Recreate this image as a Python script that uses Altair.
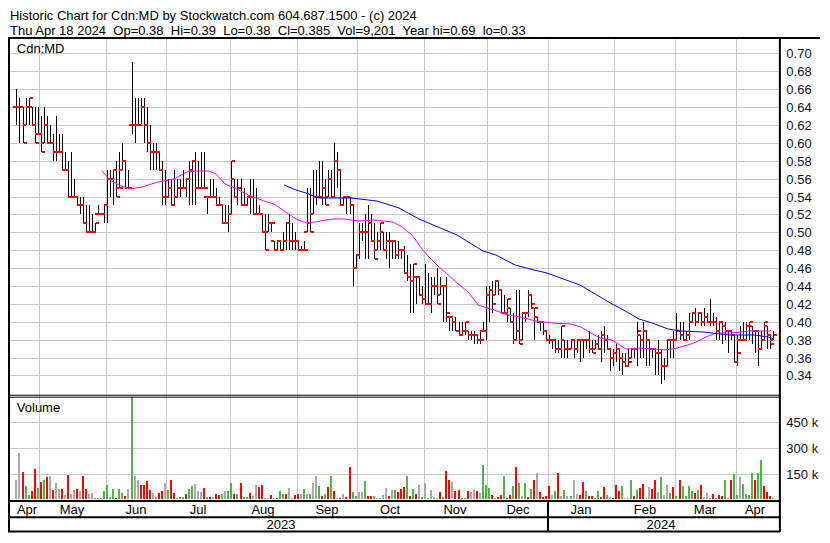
import altair as alt
import pandas as pd

# ---------------- data ----------------
N_BARS = 251
MONTHS = ["Apr", "May", "Jun", "Jul", "Aug", "Sep", "Oct", "Nov", "Dec", "Jan", "Feb", "Mar", "Apr"]
MONTH_START = [0, 8, 30, 50, 71, 93, 113, 135, 156, 176, 198, 218, 238]
YEARS = ["2023", "2024"]
YEAR_START = [0, 176]

HIGH = [
    .66, .65, .64, .65, .65, .64, .64, .64, .63, .64,
    .63, .62, .61, .63, .61, .61, .59, .58, .59, .56,
    .54, .54, .54, .53, .53, .52, .51, .53, .52, .53,
    .57, .57, .57, .58, .59, .60, .58, .57, .69, .65,
    .65, .65, .65, .64, .62, .60, .60, .59, .58, .57,
    .56, .56, .57, .56, .56, .57, .56, .58, .58, .59,
    .58, .59, .59, .54, .56, .56, .55, .54, .53, .53,
    .53, .58, .56, .56, .56, .55, .54, .56, .56, .55,
    .53, .52, .52, .52, .51, .49, .49, .49, .50, .51,
    .52, .51, .50, .49, .485, .49, .55, .55, .57, .57,
    .58, .58, .56, .57, .57, .60, .59, .57, .54, .54,
    .54, .53, .475, .51, .51, .52, .53, .52, .51, .50,
    .51, .50, .50, .50, .49, .49, .49, .48, .485, .475,
    .465, .465, .45, .45, .44, .465, .455, .45, .45, .46,
    .45, .44, .45, .405, .405, .405, .40, .40, .40, .39,
    .39, .39, .385, .39, .40, .44, .44, .445, .445, .445,
    .435, .43, .425, .415, .41, .435, .435, .41, .41, .435,
    .43, .415, .405, .40, .40, .39, .385, .38, .38, .38,
    .395, .38, .38, .38, .38, .38, .38, .38, .38, .39,
    .38, .38, .385, .39, .395, .385, .37, .37, .375, .37,
    .365, .365, .37, .37, .37, .40, .385, .40, .39, .38,
    .37, .37, .38, .37, .36, .38, .38, .39, .41, .40,
    .40, .39, .41, .41, .415, .41, .41, .415, .41, .425,
    .41, .405, .40, .40, .40, .39, .39, .385, .385, .395,
    .40, .40, .40, .395, .39, .39, .39, .40, .395, .385,
    .39,
]
LOW = [
    .62, .60, .60, .62, .62, .62, .60, .61, .59, .60,
    .60, .60, .58, .58, .59, .57, .57, .54, .54, .54,
    .53, .52, .51, .50, .50, .50, .50, .52, .52, .51,
    .51, .54, .53, .54, .55, .57, .55, .55, .61, .60,
    .62, .62, .60, .59, .57, .57, .57, .57, .53, .53,
    .54, .53, .53, .54, .54, .55, .54, .53, .53, .53,
    .55, .55, .55, .52, .54, .54, .53, .53, .51, .51,
    .50, .52, .54, .53, .53, .53, .53, .52, .52, .52,
    .52, .50, .48, .50, .50, .48, .48, .48, .48, .48,
    .48, .48, .48, .48, .48, .48, .50, .50, .52, .53,
    .54, .53, .53, .54, .54, .54, .55, .53, .53, .52,
    .52, .44, .46, .47, .49, .47, .47, .49, .47, .48,
    .48, .48, .47, .46, .47, .47, .47, .47, .455, .445,
    .41, .41, .42, .43, .42, .42, .42, .41, .43, .42,
    .43, .40, .40, .39, .39, .39, .385, .385, .385, .38,
    .38, .375, .375, .375, .39, .38, .40, .41, .43, .43,
    .41, .41, .40, .40, .375, .38, .375, .38, .40, .405,
    .415, .38, .40, .39, .385, .38, .375, .37, .365, .365,
    .36, .36, .36, .37, .36, .365, .355, .36, .37, .365,
    .365, .37, .37, .355, .365, .37, .345, .35, .355, .345,
    .34, .35, .35, .36, .36, .35, .36, .36, .35, .35,
    .36, .34, .34, .33, .335, .35, .36, .36, .38, .38,
    .38, .38, .38, .40, .395, .40, .395, .395, .40, .395,
    .395, .38, .38, .375, .38, .365, .38, .355, .35, .38,
    .38, .38, .38, .375, .365, .35, .37, .38, .37, .37,
    .38,
]
CLOSE = [
    .64, .64, .60, .64, .65, .62, .60, .61, .59, .62,
    .60, .60, .59, .59, .59, .57, .57, .54, .54, .54,
    .53, .53, .51, .50, .50, .50, .51, .52, .52, .53,
    .56, .56, .57, .54, .55, .58, .55, .55, .62, .62,
    .62, .64, .62, .60, .59, .59, .59, .57, .54, .54,
    .55, .53, .54, .55, .55, .55, .56, .57, .58, .55,
    .55, .55, .55, .54, .54, .54, .53, .53, .51, .51,
    .52, .58, .54, .55, .53, .53, .54, .54, .52, .52,
    .52, .50, .48, .51, .51, .48, .49, .48, .49, .51,
    .49, .49, .49, .48, .48, .48, .51, .50, .54, .54,
    .54, .55, .53, .56, .54, .58, .57, .53, .54, .54,
    .53, .46, .475, .50, .50, .50, .51, .49, .47, .49,
    .51, .48, .49, .49, .49, .475, .48, .48, .455, .45,
    .445, .465, .45, .43, .425, .42, .42, .44, .44, .42,
    .44, .44, .41, .405, .40, .39, .385, .39, .40, .385,
    .385, .385, .38, .38, .39, .43, .435, .42, .445, .435,
    .41, .41, .425, .40, .38, .39, .375, .41, .41, .43,
    .42, .415, .40, .40, .39, .38, .38, .38, .37, .37,
    .395, .37, .37, .38, .37, .38, .38, .38, .38, .37,
    .365, .375, .37, .385, .38, .37, .36, .365, .37, .36,
    .355, .35, .355, .37, .37, .39, .38, .39, .38, .37,
    .37, .365, .365, .35, .35, .38, .38, .38, .39, .385,
    .38, .385, .40, .41, .40, .41, .40, .405, .40, .40,
    .40, .39, .40, .395, .39, .39, .385, .355, .365, .38,
    .38, .395, .40, .39, .39, .37, .38, .40, .385, .375,
    .385,
]
OPEN = [
    .64, .64, .64, .62, .64, .64, .62, .61, .61, .60,
    .62, .60, .60, .59, .59, .59, .57, .57, .54, .54,
    .54, .53, .53, .51, .50, .50, .50, .52, .52, .52,
    .53, .56, .56, .57, .55, .57, .58, .55, .62, .62,
    .62, .62, .64, .62, .60, .59, .59, .59, .57, .54,
    .54, .55, .53, .54, .55, .55, .55, .56, .57, .58,
    .55, .55, .55, .54, .54, .54, .54, .53, .53, .51,
    .51, .52, .56, .54, .55, .53, .53, .54, .54, .52,
    .52, .52, .50, .50, .51, .49, .48, .49, .48, .49,
    .51, .49, .49, .49, .48, .48, .50, .51, .52, .54,
    .54, .54, .55, .54, .56, .54, .58, .57, .53, .54,
    .54, .53, .46, .475, .50, .50, .50, .51, .49, .48,
    .49, .50, .48, .49, .49, .49, .475, .48, .48, .455,
    .45, .445, .45, .45, .43, .425, .42, .42, .44, .44,
    .43, .44, .44, .405, .405, .40, .39, .385, .39, .39,
    .385, .385, .385, .38, .39, .39, .43, .435, .43, .445,
    .435, .41, .41, .415, .40, .38, .39, .38, .41, .41,
    .43, .415, .405, .40, .40, .39, .38, .38, .38, .37,
    .37, .38, .37, .37, .38, .37, .38, .38, .38, .38,
    .37, .37, .375, .37, .385, .38, .37, .36, .365, .37,
    .36, .355, .35, .36, .37, .37, .385, .38, .39, .38,
    .37, .37, .365, .365, .35, .35, .38, .38, .38, .39,
    .385, .38, .385, .40, .41, .40, .41, .40, .405, .40,
    .40, .40, .39, .40, .395, .39, .39, .385, .355, .38,
    .38, .38, .395, .395, .39, .39, .37, .38, .395, .385,
    .38,
]
# daily volume in thousands of shares
VOLUME_K = [
    110, 273, 158, 75, 23, 48, 179, 65, 100, 115,
    127, 138, 54, 92, 58, 58, 23, 144, 29, 52,
    58, 48, 138, 58, 29, 35, 8, 8, 8, 48,
    81, 13, 58, 8, 58, 35, 17, 58, 650, 138,
    115, 81, 81, 104, 52, 35, 13, 35, 48, 92,
    52, 110, 35, 8, 13, 13, 29, 58, 75, 87,
    48, 42, 63, 13, 13, 13, 29, 23, 29, 48,
    48, 92, 29, 29, 92, 13, 13, 35, 17, 81,
    69, 81, 8, 5, 23, 8, 8, 48, 29, 29,
    63, 8, 23, 29, 29, 58, 29, 29, 92, 133,
    75, 17, 29, 69, 138, 48, 5, 8, 29, 13,
    190, 42, 17, 42, 42, 104, 17, 17, 17, 8,
    8, 23, 63, 17, 52, 52, 42, 58, 69, 138,
    17, 58, 29, 85, 13, 92, 8, 52, 13, 8,
    40, 13, 163, 115, 98, 48, 52, 8, 8, 46,
    42, 52, 48, 35, 202, 81, 63, 23, 8, 13,
    23, 133, 8, 23, 75, 190, 92, 17, 92, 13,
    58, 110, 156, 40, 13, 17, 77, 23, 46, 156,
    17, 52, 17, 17, 115, 29, 23, 98, 46, 17,
    17, 8, 46, 13, 69, 23, 13, 8, 81, 46,
    75, 8, 8, 115, 17, 52, 63, 87, 8, 69,
    58, 115, 42, 127, 23, 81, 35, 69, 17, 115,
    75, 17, 75, 46, 35, 52, 81, 13, 35, 8,
    29, 8, 23, 17, 110, 8, 115, 150, 23, 127,
    87, 29, 23, 156, 110, 156, 231, 75, 40, 17,
    9,
]
# u = close up (green), d = close down (red), f = unchanged (grey)
VOL_DIR = (
    "ffduuddudu" "dfdffdfdff" "dfddffuufu" "ufuduudfuf" "fddddffddf"
    "udduuuduuf" "ffdudfdduf" "uududuudff" "ddufdfduud" "ffddfufuff"
    "udududfdfd" "duuffudduf" "uffdfudddu" "dudf"
    "ufufffdudd" "fdduudffdf" "uuududdudd" "udufududfd" "dddfudfufu"
    "ffddudduud" "dufddduffu" "duddffddfu" "ffududuuuu" "dudffududd"
    "ufduufuuuu" "duudddu"
)

# moving averages (bar position, price)
MA_FAST_IDX = [28.2, 30.8, 34.0, 37.1, 41.3, 46.7, 52.1, 56.3, 59.5, 63.6, 65.8, 69.0, 72.2,
               76.4, 81.8, 85.0, 88.2, 92.3, 95.5, 98.7, 104.1, 108.3, 112.7, 117.8, 124.2,
               127.4, 130.6, 133.8, 136.0, 139.2, 144.9, 149.4, 152.6, 154.5, 157.7, 162.2,
               166.3, 171.7, 176.9, 183.2, 186.4, 189.6, 192.8, 196.6, 201.4, 205.6, 211.0,
               214.2, 218.3, 223.7, 227.9, 231.1, 235.5, 239.7, 241.9, 249.3]
MA_FAST = [.568, .558, .553, .548, .551, .556, .560, .567, .569, .568, .565, .554, .549,
           .542, .535, .532, .524, .515, .510, .512, .515, .515, .513, .514, .512,
           .506, .497, .481, .473, .462, .446, .432, .419, .416, .413, .408,
           .405, .401, .399, .398, .394, .387, .382, .380, .370, .371, .370,
           .368, .371, .376, .383, .387, .387, .389, .390, .390]
MA_SLOW_IDX = [88.4, 92.3, 95.5, 100.0, 110.5, 119.1, 126.5, 132.8, 139.2, 145.6, 154.2,
               158.3, 164.7, 171.1, 175.3, 186.1, 196.6, 199.2, 205.6, 210.0, 215.1,
               219.6, 226.9, 235.5, 243.8, 248.3, 250.2]
MA_SLOW = [.553, .547, .544, .538, .538, .535, .527, .515, .506, .497, .479,
           .475, .464, .458, .455, .441, .420, .415, .403, .399, .392,
           .390, .388, .385, .385, .383, .381]

PRICE_TICKS = [0.34, 0.36, 0.38, 0.40, 0.42, 0.44, 0.46, 0.48, 0.50, 0.52,
               0.54, 0.56, 0.58, 0.60, 0.62, 0.64, 0.66, 0.68, 0.70]
VOLUME_TICKS_K = [150, 300, 450]

TITLE_1 = "Historic Chart for Cdn:MD by Stockwatch.com 604.687.1500 - (c) 2024"
TITLE_2 = ("Thu Apr 18 2024\u00a0 Op=0.38\u00a0 Hi=0.39\u00a0 Lo=0.38\u00a0 Cl=0.385\u00a0 "
           "Vol=9,201\u00a0 Year hi=0.69\u00a0 lo=0.33")
PANEL_LABEL = "Cdn:MD"
VOLUME_LABEL = "Volume"

for arr in (HIGH, LOW, CLOSE, OPEN, VOLUME_K):
    assert len(arr) == N_BARS, len(arr)
assert len(VOL_DIR) == N_BARS, len(VOL_DIR)
assert len(MA_FAST_IDX) == len(MA_FAST) and len(MA_SLOW_IDX) == len(MA_SLOW)

# ---------------- layout (reference pixel grid scaled to the page) ----------------
TOTAL_W, TOTAL_H = 812, 525
SX, SY = TOTAL_W / 830.0, TOTAL_H / 543.0


def px(x):
    return x * SX


def py(y):
    return y * SY


FONT = "Liberation Sans"
FS = 13.3 * SX
GRID = "#c8c8c8"
VIEW_W = round(px(789))

bars = pd.DataFrame({"i": list(range(N_BARS)), "open": OPEN, "high": HIGH,
                     "low": LOW, "close": CLOSE, "vol": VOLUME_K, "dir": list(VOL_DIR)})
fast = pd.DataFrame({"i": MA_FAST_IDX, "v": MA_FAST})
slow = pd.DataFrame({"i": MA_SLOW_IDX, "v": MA_SLOW})
ends = MONTH_START[1:] + [N_BARS]
months = pd.DataFrame({"m": MONTHS, "start": MONTH_START,
                       "mid": [(s + e - 1) / 2 for s, e in zip(MONTH_START, ends)]})
yends = YEAR_START[1:] + [N_BARS]
years = pd.DataFrame({"y": YEARS, "start": YEAR_START,
                      "mid": [(s + e - 1) / 2 for s, e in zip(YEAR_START, yends)]})

x_scale = alt.Scale(domain=[-0.5, N_BARS - 0.5], range=[px(2), px(789)], nice=False, zero=False,
                    round=True)
P_HI = 0.70 + (47 - 32) / 925.0
P_LO = 0.70 - (400 - 47) / 925.0
price_scale = alt.Scale(domain=[P_LO, P_HI], range=[py(400), py(32)], nice=False, zero=False,
                        round=True)
V_TOP = 150 * (508 - 402) / 26.5
vol_scale = alt.Scale(domain=[0, V_TOP], range=[py(508), py(402)], nice=False, zero=False,
                      clamp=True, round=True)

X = alt.X("i:Q", scale=x_scale, axis=None)

price_axis = alt.Axis(orient="right", values=PRICE_TICKS, format=".2f", grid=True, gridColor=GRID,
                      gridWidth=1, domain=False, ticks=False, labelPadding=px(6), labelFont=FONT,
                      labelFontSize=FS, labelColor="#111133", labelOverlap=False, labelFlush=False,
                      title=None)
vol_axis = alt.Axis(orient="right", values=VOLUME_TICKS_K, labelExpr="datum.value + ' k'", grid=True,
                    gridColor=GRID, gridWidth=1, domain=False, ticks=False, labelPadding=px(6),
                    labelFont=FONT, labelFontSize=FS, labelColor="#111111", labelOverlap=False,
                    labelFlush=False, title=None)

# month grid lines (between the last bar of a month and the first of the next)
month_grid = alt.Chart(months[months["start"] > 0]).transform_calculate(
    pos="datum.start - 0.5").mark_rule(color=GRID, strokeWidth=1, xOffset=0.5).encode(
    x=alt.X("pos:Q", scale=x_scale, axis=None), y=alt.value(py(32)), y2=alt.value(py(508)))

volume_bars = alt.Chart(bars).mark_bar(size=2).encode(
    x=X,
    y=alt.Y("vol:Q", scale=vol_scale, axis=vol_axis),
    color=alt.Color("dir:N", scale=alt.Scale(domain=["u", "d", "f"],
                                             range=["#4db848", "#ff0000", "#aaaaaa"]), legend=None),
)

hl = alt.Chart(bars).mark_rule(color="black", strokeWidth=1, xOffset=0.5).encode(
    x=X, y=alt.Y("low:Q", scale=price_scale, axis=price_axis), y2="high:Q")
open_tick = alt.Chart(bars).mark_tick(orient="horizontal", size=3, thickness=2, color="#ff0000",
                                      xOffset=-1.5, opacity=1).encode(
    x=X, y=alt.Y("open:Q", scale=price_scale, axis=None))
close_tick = alt.Chart(bars).mark_tick(orient="horizontal", size=3, thickness=2, color="#ff0000",
                                       xOffset=2.5, opacity=1).encode(
    x=X, y=alt.Y("close:Q", scale=price_scale, axis=None))
fast_line = alt.Chart(fast).mark_line(color="#ff00ff", strokeWidth=1).encode(
    x=X, y=alt.Y("v:Q", scale=price_scale, axis=None))
slow_line = alt.Chart(slow).mark_line(color="#0000ff", strokeWidth=1).encode(
    x=X, y=alt.Y("v:Q", scale=price_scale, axis=None))

month_text = alt.Chart(months).mark_text(font=FONT, fontSize=FS, color="black",
                                         baseline="alphabetic").encode(
    x=alt.X("mid:Q", scale=x_scale, axis=None), y=alt.value(py(523)), text="m:N")
year_text = alt.Chart(years).mark_text(font=FONT, fontSize=FS, color="black",
                                       baseline="alphabetic").encode(
    x=alt.X("mid:Q", scale=x_scale, axis=None), y=alt.value(py(539)), text="y:N")
year_div = alt.Chart(years[years["start"] > 0]).transform_calculate(
    pos="datum.start - 0.5").mark_rule(color="black", strokeWidth=2).encode(
    x=alt.X("pos:Q", scale=x_scale, axis=None), y=alt.value(py(510)), y2=alt.value(py(542)))

one = pd.DataFrame({"k": [0]})


def hline(y, x1, x2, w):
    return alt.Chart(one).mark_rule(color="black", strokeWidth=w).encode(
        x=alt.value(px(x1)), x2=alt.value(px(x2)), y=alt.value(py(y)))


def vline(x, y1, y2, w):
    return alt.Chart(one).mark_rule(color="black", strokeWidth=w).encode(
        x=alt.value(px(x)), y=alt.value(py(y1)), y2=alt.value(py(y2)))


def label(text, x, y):
    return alt.Chart(one).mark_text(text=text, align="left", baseline="alphabetic", font=FONT,
                                    fontSize=FS, color="black").encode(
        x=alt.value(px(x)), y=alt.value(py(y)))


frame = [
    hline(31, 0, 830, 2),
    hline(400.5, 0, 789, 1),
    hline(402.5, 0, 789, 1),
    hline(510, 0, 789, 2),
    hline(526.7, 0, 789, 2),
    hline(541.5, 0, 789, 2),
    vline(1, 31, 542, 2),
    vline(789, 31, 542, 2),
]

texts = [
    label(TITLE_1, 2, 12.8),
    label(TITLE_2, 2, 28.3),
    label(PANEL_LABEL, 9, 46.7),
    label(VOLUME_LABEL, 9, 418.3),
]

chart = alt.layer(
    month_grid, volume_bars, hl, open_tick, close_tick, fast_line, slow_line,
    month_text, year_text, year_div, *frame, *texts,
).resolve_scale(y="independent").properties(
    width=VIEW_W, height=TOTAL_H,
    autosize=alt.AutoSizeParams(type="none"),
    padding={"left": 0, "top": 0, "right": TOTAL_W - VIEW_W, "bottom": 0},
    background="white",
).configure_view(strokeWidth=0)

chart.save("out.html", embed_options={"renderer": "svg", "actions": False})
